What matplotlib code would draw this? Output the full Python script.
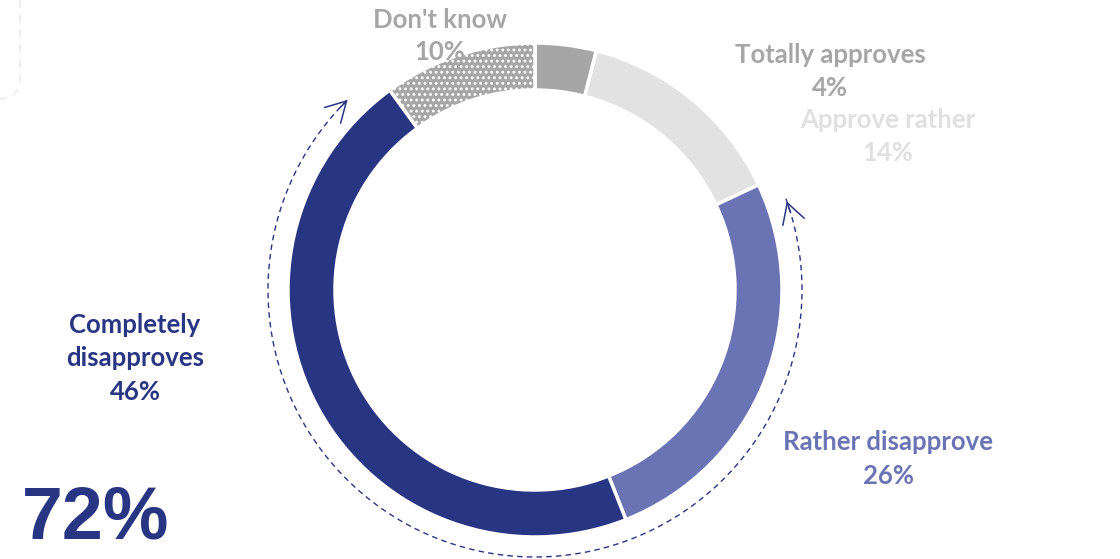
import numpy as np
import matplotlib.pyplot as plt
from matplotlib.patches import FancyBboxPatch

# Data
labels = ["Totally approves", "Approve rather", "Rather disapprove",
          "Completely disapproves", "Don't know"]
values = [4, 14, 26, 46, 10]
colors = ["#a6a6a6", "#e2e2e2", "#6a74b4", "#283583", "#a6a6a6"]
label_colors = ["#a6a6a6", "#e0e0e0", "#6a74b4", "#283583", "#a6a6a6"]
label_texts = ["Totally approves", "Approve rather", "Rather disapprove",
               "Completely\ndisapproves", "Don't know"]
disapprove_total = "72%"

W, H = 1120, 559
cx, cy = 535, H - 290
R = 247
ring = 47

plt.rcParams['font.family'] = ['Lato', 'DejaVu Sans']
plt.rcParams['hatch.linewidth'] = 1.3

fig = plt.figure(figsize=(W / 100, H / 100), dpi=100)
ax = fig.add_axes([0, 0, 1, 1])

wedges, _ = ax.pie(values, colors=colors, startangle=90, counterclock=False,
                   center=(cx, cy), radius=R,
                   wedgeprops=dict(width=ring, edgecolor="white", linewidth=2.5))
wedges[4].set_hatch("...")

ax.set_xlim(0, W)
ax.set_ylim(0, H)
ax.set_aspect("equal")
ax.axis("off")

# Labels (x, y in image pixels)
fs = 18.5
pos = [(830, 55, 88), (888, 120, 153), (888, 442, 476), (135, 325, 392), (440, 20, 52)]
for i, (x, y1, y2) in enumerate(pos):
    txt = label_texts[i]
    if "\n" in txt:
        for k, line in enumerate(txt.split("\n")):
            ax.text(x, H - (y1 + 33 * k), line, ha="center", va="center",
                    fontsize=fs, fontweight="bold", color=label_colors[i])
    else:
        ax.text(x, H - y1, txt, ha="center", va="center",
                fontsize=fs, fontweight="bold", color=label_colors[i])
    ax.text(x, H - y2, f"{values[i]}%", ha="center", va="center",
            fontsize=fs, fontweight="bold", color=label_colors[i])

# Dashed arc with arrows around the disapprove share
Ra = 267
a_start, a_end = np.deg2rad(20), np.deg2rad(-226)
t = np.linspace(a_start, a_end, 300)
ax.plot(cx + Ra * np.cos(t), cy + Ra * np.sin(t), color="#283583",
        lw=1.0, ls=(0, (4, 3)))
for a, d in [(a_start, 1), (a_end, -1)]:
    tip = (cx + Ra * np.cos(a), cy + Ra * np.sin(a))
    back = a - d * 0.06
    tail = (cx + Ra * np.cos(back), cy + Ra * np.sin(back))
    ax.annotate("", xy=tip, xytext=tail,
                arrowprops=dict(arrowstyle="->,head_length=0.8,head_width=0.45",
                                color="#283583", lw=1.1, mutation_scale=18))

ax.text(22, H - 519, disapprove_total, ha="left", va="center",
        fontsize=53, fontweight="bold", color="#283583",
        family=["Liberation Sans", "DejaVu Sans"])

# faint dashed frame in the corner
ax.add_patch(FancyBboxPatch((-300, H - 99), 320, 400,
                            boxstyle="round,pad=0,rounding_size=22",
                            fill=False, edgecolor="#ebebeb", lw=1.2, ls=(0, (5, 4))))

fig.savefig("out.png", dpi=100)
